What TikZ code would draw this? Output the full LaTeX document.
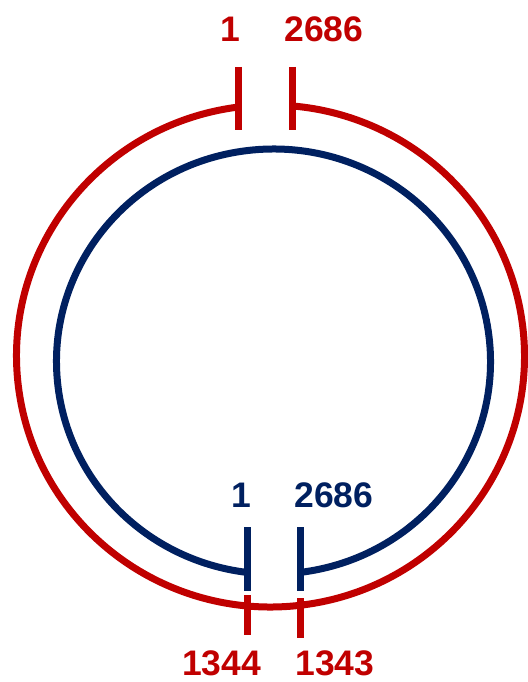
\documentclass[tikz,border=0pt]{standalone}
\usepackage{fontspec}
\setmainfont{Liberation Sans}
\definecolor{cred}{RGB}{192,0,0}
\definecolor{cblue}{RGB}{0,32,96}
\begin{document}
\begin{tikzpicture}[x=1pt,y=-1pt,
  redline/.style={draw=cred,line width=7pt},
  blueline/.style={draw=cblue,line width=7pt},
  tick/.style={line width=7pt},
  lbl/.style={inner sep=0pt,anchor=base,font=\fontsize{35.5}{38}\selectfont\bfseries}]
\useasboundingbox (0,0) rectangle (527,682);
% red outer circle (gap at top)
\draw[redline] (270.5,356) ++(97.35:254 and -251) arc[start angle=97.35,end angle=445.15,x radius=254,y radius=-251];
% blue inner circle (gap at bottom)
\draw[blueline] (273.5,361.5) ++(277:217 and -212.5) arc[start angle=277,end angle=623,x radius=217,y radius=-212.5];
% red ticks top
\draw[tick,cred] (238,67) -- (238,130);
\draw[tick,cred] (292,67) -- (292,130);
% blue ticks bottom
\draw[tick,cblue] (247,527) -- (247,591);
\draw[tick,cblue] (300,527) -- (300,591);
% red ticks bottom
\draw[tick,cred] (247,595) -- (247,635);
\draw[tick,cred] (300,598) -- (300,638);
% labels
\node[lbl,text=cred] (t1) at (230,42) {1};
\node[lbl,text=cred] (t2) at (324,42) {2686};
\node[lbl,text=cblue] (b1) at (241,507) {1};
\node[lbl,text=cblue] (b2) at (334,507) {2686};
\node[lbl,text=cred] (r1) at (221.5,675.5) {1344};
\node[lbl,text=cred] (r2) at (335,675.5) {1343};
\end{tikzpicture}
\end{document}
